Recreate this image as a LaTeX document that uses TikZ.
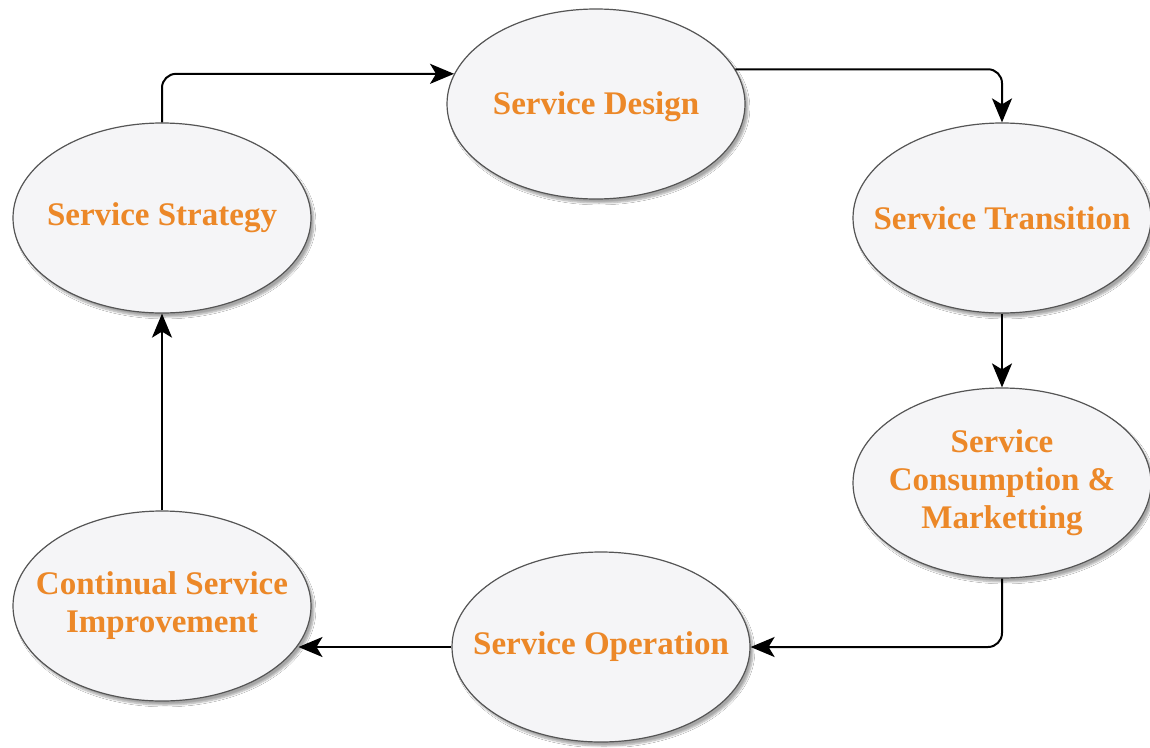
\documentclass[tikz,border=0pt]{standalone}
\usepackage{fontspec}
\setmainfont{Liberation Serif}
\usetikzlibrary{shapes.geometric,arrows.meta,shadows.blur}
\definecolor{txtorange}{RGB}{236,136,40}
\definecolor{ellfill}{RGB}{245,245,247}
\definecolor{ellline}{RGB}{85,85,85}
\begin{document}
\begin{tikzpicture}[x=1pt,y=-1pt,
  ell/.style={ellipse, draw=ellline, line width=1.2pt, fill=ellfill,
    minimum width=298pt, minimum height=190pt, inner sep=0pt,
    blur shadow={shadow xshift=3pt, shadow yshift=-4pt, shadow opacity=35, shadow blur steps=6}},
  lbl/.style={text=txtorange, font=\fontsize{33}{38}\selectfont\bfseries, align=center, inner sep=0pt},
  conn/.style={line width=2pt, rounded corners=14pt, -{Stealth[length=24pt,width=20pt,inset=6pt]}}]
\useasboundingbox (0,0) rectangle (1150,747);
\fill[white] (0,0) rectangle (1150,747);

\node[ell] (strat) at (162,218) {};
\node[ell] (design) at (596,104) {};
\node[ell] (trans) at (1002,218) {};
\node[ell] (cons) at (1002,483) {};
\node[ell] (oper) at (601,647) {};
\node[ell] (cont) at (162,606) {};

\node[lbl] (tstrat) at (strat) {Service Strategy};
\node[lbl] (tdesign) at ([yshift=-3pt]design.center) {Service Design};
\node[lbl] (ttrans) at (trans) {Service Transition};
\node[lbl] (tcons) at (cons) {Service\\Consumption \&\\Marketting};
\node[lbl] (toper) at (oper) {Service Operation};
\node[lbl] (tcont) at (cont) {Continual Service\\Improvement};

\draw[conn] (strat.north) |- (design.168.5);
\draw[conn] (design.14) -| (trans.north);
\draw[conn] (trans.south) -- (cons.north);
\draw[conn] (cons.south) |- (oper.east);
\draw[conn] (oper.west) -- (cont.-16.8 |- oper.west);
\draw[conn] (cont.north) -- (strat.south);
\end{tikzpicture}
\end{document}
